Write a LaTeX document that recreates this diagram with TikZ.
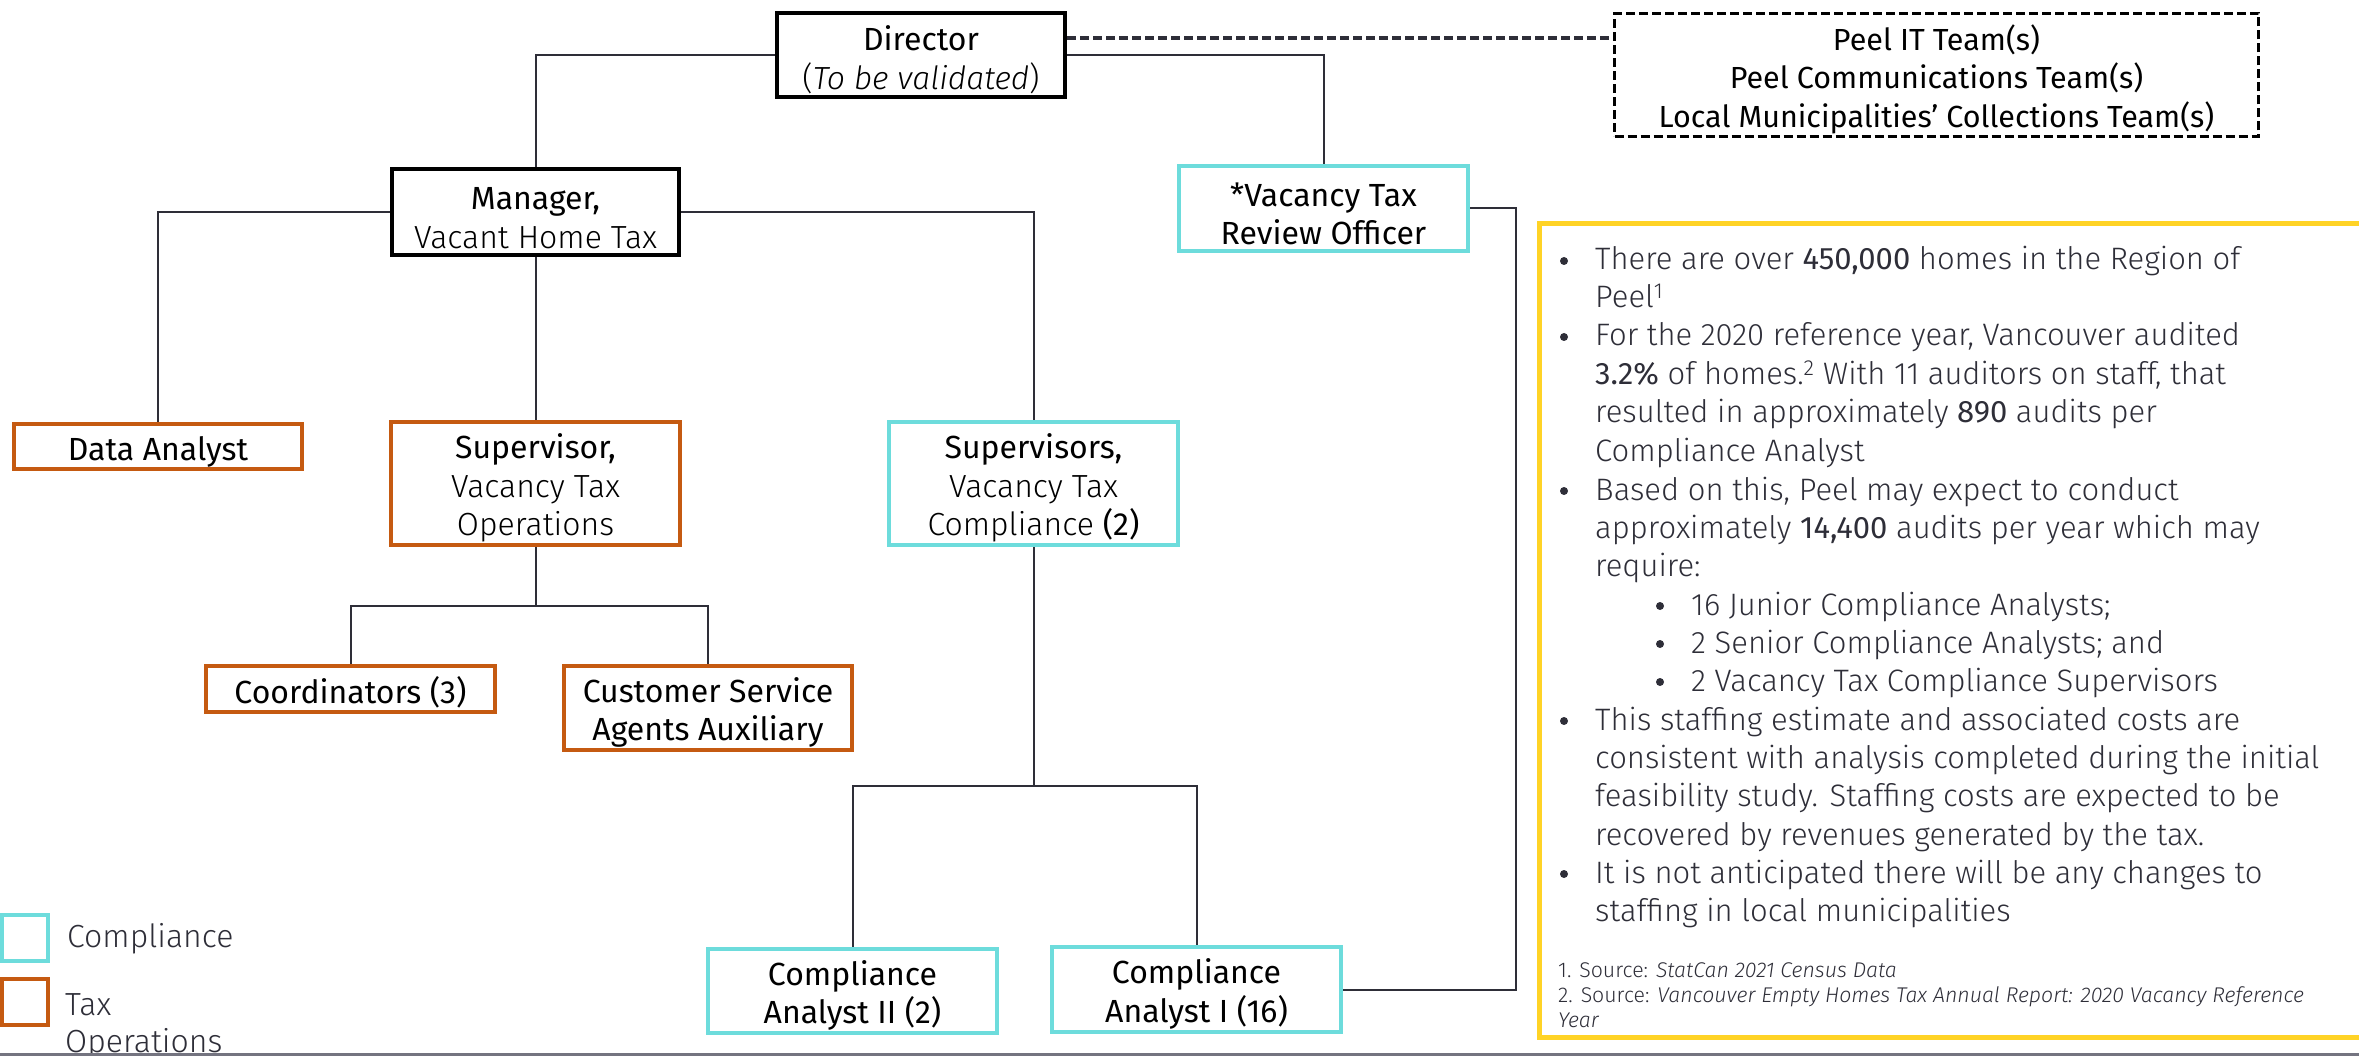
\documentclass[tikz,border=0pt]{standalone}
\usepackage{fontspec}
\setmainfont{Fira Sans Light}[BoldFont={Fira Sans}, ItalicFont={Fira Sans Light Italic}, BoldItalicFont={Fira Sans Italic}]
\usetikzlibrary{calc}
\definecolor{cy}{HTML}{6DDCDC}
\definecolor{orng}{HTML}{C55A11}
\definecolor{yel}{HTML}{FFD326}
\definecolor{ln}{HTML}{2E2E38}
\definecolor{txt}{HTML}{2E2E38}
\definecolor{gline}{HTML}{747480}
\newcommand{\tstrut}{\rule{0pt}{34pt}}
\tikzset{
  orgbox/.style={draw, line width=4pt, inner sep=0pt, align=center, font=\fontsize{32}{38.5}\selectfont, text=black},
  blackbox/.style={orgbox, draw=black},
  cybox/.style={orgbox, draw=cy},
  orbox/.style={orgbox, draw=orng},
  peelbox/.style={orgbox, draw=black, line width=3.5pt, dash pattern=on 9pt off 4pt, font=\fontsize{30.5}{38.5}\selectfont},
  conn/.style={draw=ln, line width=2pt},
  dashconn/.style={draw=ln, line width=4.5pt, dash pattern=on 9pt off 4pt},
  body/.style={anchor=base west, inner sep=0pt, font=\fontsize{31}{38}\selectfont, text=txt},
  dot/.style={circle, fill=txt, inner sep=0pt, minimum size=8pt},
  foot/.style={anchor=base west, inner sep=0pt, font=\fontsize{21.3}{25}\selectfont, text=txt},
  legbox/.style={draw, line width=4pt, minimum width=46pt, minimum height=46pt, inner sep=0pt},
  legtext/.style={anchor=base west, inner sep=0pt, font=\fontsize{32}{37}\selectfont, text=txt},
}
\begin{document}
\begin{tikzpicture}[x=1pt, y=-1pt]
\useasboundingbox (0,0) rectangle (2359,1056);

% yellow panel
\draw[yel, line width=5pt] (2370,224) -- (1539,224) -- (1539,1037) -- (2370,1037);

% nodes
\node[blackbox, minimum width=288pt, minimum height=84pt] (dir) at (921,55) {\tstrut\textbf{Director}\\(\textit{To be validated})};
\node[peelbox, minimum width=644pt, minimum height=123pt] (peel) at (1936.5,75) {\tstrut\textbf{Peel IT Team(s)}\\\textbf{Peel Communications Team(s)}\\\textbf{Local Municipalities’ Collections Team(s)}};
\node[blackbox, minimum width=287pt, minimum height=86pt] (mgr) at (535.5,212) {\tstrut\textbf{Manager,}\\Vacant Home Tax};
\node[cybox, minimum width=289pt, minimum height=85pt] (vto) at (1323.5,208.5) {\tstrut\textbf{*Vacancy Tax}\\\textbf{Review Officer}};
\node[orbox, minimum width=288pt, minimum height=45pt] (da) at (158,446.5) {\tstrut\textbf{Data Analyst}};
\node[orbox, minimum width=289pt, minimum height=123pt] (sops) at (535.5,483.5) {\tstrut\textbf{Supervisor,}\\Vacancy Tax\\Operations};
\node[cybox, minimum width=289pt, minimum height=123pt] (scomp) at (1033.5,483.5) {\tstrut\textbf{Supervisors,}\\Vacancy Tax\\Compliance \textbf{(2)}};
\node[orbox, minimum width=289pt, minimum height=46pt] (coord) at (350.5,689) {\tstrut\textbf{Coordinators (3)}};
\node[orbox, minimum width=288pt, minimum height=84pt] (csa) at (708,708) {\tstrut\textbf{Customer Service}\\\textbf{Agents Auxiliary}};
\node[cybox, minimum width=289pt, minimum height=84pt] (ca2) at (852.5,991) {\tstrut\textbf{Compliance}\\\textbf{Analyst II (2)}};
\node[cybox, minimum width=289pt, minimum height=85pt] (ca1) at (1196.5,989.5) {\tstrut\textbf{Compliance}\\\textbf{Analyst I (16)}};

% connectors
\coordinate (rail) at (1516,600);
\coordinate (j1) at (535.5,606);
\coordinate (j2) at (1033.5,786);
\draw[dashconn] ([yshift=17pt]dir.east) -- ([yshift=17pt]dir.east -| peel.west);
\draw[conn] (dir.west) -| (mgr.north);
\draw[conn] (dir.east) -| (vto.north);
\draw[conn] (mgr.west) -| (da.north);
\draw[conn] (mgr.south) -- (sops.north);
\draw[conn] (mgr.east) -| (scomp.north);
\draw[conn] (vto.east) -| (rail) |- (ca1.east);
\draw[conn] (sops.south) -- (j1);
\draw[conn] (j1) -| (coord.north);
\draw[conn] (j1) -| (csa.north);
\draw[conn] (scomp.south) -- (j2);
\draw[conn] (j2) -| (ca2.north);
\draw[conn] (j2) -| (ca1.north);

% panel text
\node[dot] (b1) at (1564,261) {};
\node[body] (l1) at (1595,270) {There are over \textbf{450,000} homes in the Region of};
\node[body] (l2) at (1595,308) {Peel\textsuperscript{1}};
\node[dot] (b2) at (1564,337) {};
\node[body] (l3) at (1595,346) {For the 2020 reference year, Vancouver audited};
\node[body] (l4) at (1595,385) {\textbf{3.2\%} of homes.\textsuperscript{2} With 11 auditors on staff, that};
\node[body] (l5) at (1595,423) {resulted in approximately \textbf{890} audits per};
\node[body] (l6) at (1595,461) {Compliance Analyst};
\node[dot] (b3) at (1564,491) {};
\node[body] (l7) at (1595,500) {Based on this, Peel may expect to conduct};
\node[body] (l8) at (1595,538) {approximately \textbf{14,400} audits per year which may};
\node[body] (l9) at (1595,576) {require:};
\node[dot] (s1) at (1660,606) {};
\node[body] (l10) at (1691,615) {16 Junior Compliance Analysts;};
\node[dot] (s2) at (1660,644) {};
\node[body] (l11) at (1691,653) {2 Senior Compliance Analysts; and};
\node[dot] (s3) at (1660,682) {};
\node[body] (l12) at (1691,691) {2 Vacancy Tax Compliance Supervisors};
\node[dot] (b4) at (1564,721) {};
\node[body] (l13) at (1595,730) {This staffing estimate and associated costs are};
\node[body] (l14) at (1595,768) {consistent with analysis completed during the initial};
\node[body] (l15) at (1595,806) {feasibility study. Staffing costs are expected to be};
\node[body] (l16) at (1595,845) {recovered by revenues generated by the tax.};
\node[dot] (b5) at (1564,874) {};
\node[body] (l17) at (1595,883) {It is not anticipated there will be any changes to};
\node[body] (l18) at (1595,921) {staffing in local municipalities};
\node[foot] (f1) at (1558,977) {1. Source: \textit{StatCan 2021 Census Data}};
\node[foot] (f2) at (1558,1002) {2. Source: \textit{Vancouver Empty Homes Tax Annual Report: 2020 Vacancy Reference}};
\node[foot] (f3) at (1558,1027) {\textit{Year}};

% legend
\node[legbox, draw=cy] (lc) at (25,938) {};
\node[legtext] (lct) at (67,947) {Compliance};
\node[legbox, draw=orng] (lo) at (25,1001.5) {};
\node[legtext] (lot) at (65,1015) {Tax};
\node[legtext] (lot2) at (65,1052) {Operations};

% bottom rule
\draw[gline, line width=3pt] (0,1054.5) -- (2359,1054.5);
\end{tikzpicture}
\end{document}
